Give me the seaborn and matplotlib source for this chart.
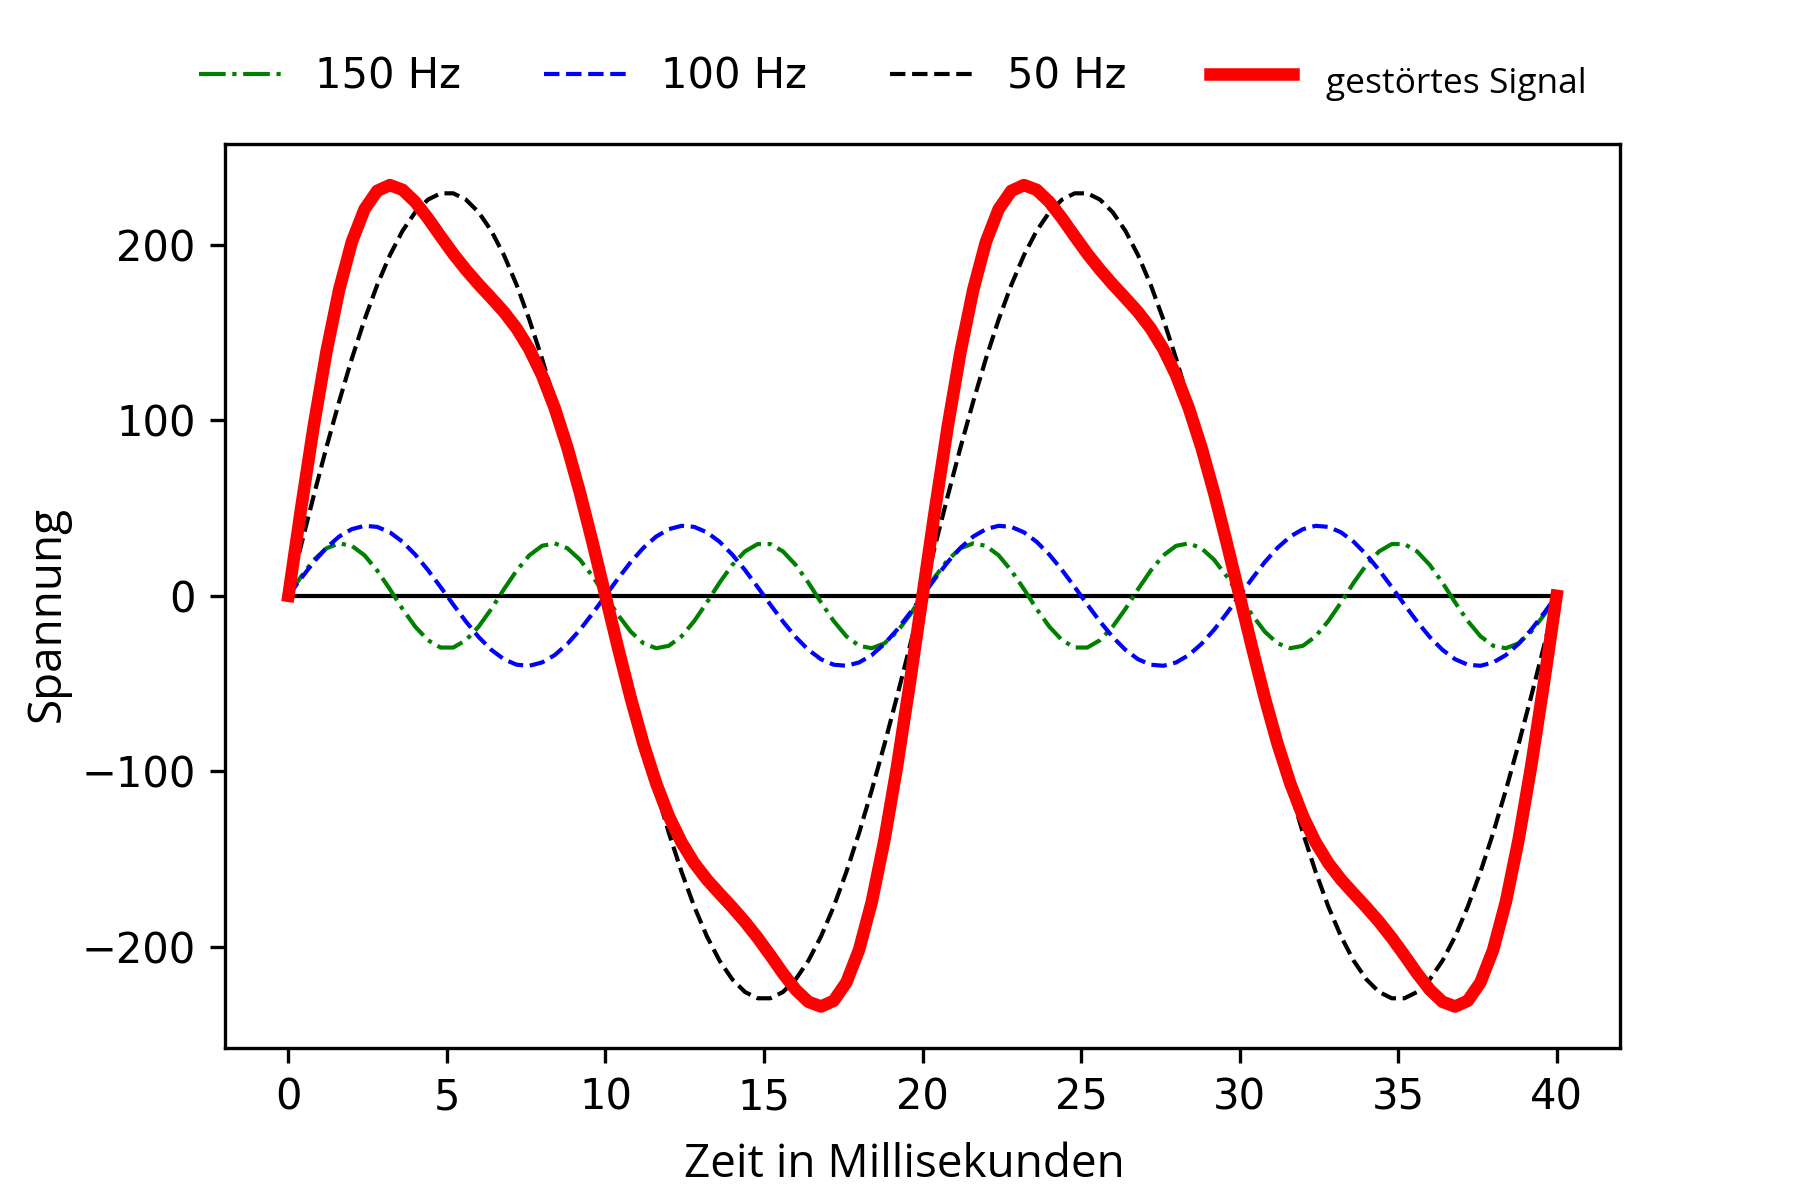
"""Gestörtes Signal: 50 Hz Grundschwingung mit 100 Hz und 150 Hz Oberschwingungen."""

import matplotlib

matplotlib.use("Agg")
import matplotlib.pyplot as plt
import seaborn as sns

# Abtastzeitpunkte in Millisekunden (Schrittweite 0.4 ms)
zeit_ms = [
    0.0, 0.4, 0.8, 1.2, 1.6, 2.0, 2.4, 2.8, 3.2, 3.6,
    4.0, 4.4, 4.8, 5.2, 5.6, 6.0, 6.4, 6.8, 7.2, 7.6,
    8.0, 8.4, 8.8, 9.2, 9.6, 10.0, 10.4, 10.8, 11.2, 11.6,
    12.0, 12.4, 12.8, 13.2, 13.6, 14.0, 14.4, 14.8, 15.2, 15.6,
    16.0, 16.4, 16.8, 17.2, 17.6, 18.0, 18.4, 18.8, 19.2, 19.6,
    20.0, 20.4, 20.8, 21.2, 21.6, 22.0, 22.4, 22.8, 23.2, 23.6,
    24.0, 24.4, 24.8, 25.2, 25.6, 26.0, 26.4, 26.8, 27.2, 27.6,
    28.0, 28.4, 28.8, 29.2, 29.6, 30.0, 30.4, 30.8, 31.2, 31.6,
    32.0, 32.4, 32.8, 33.2, 33.6, 34.0, 34.4, 34.8, 35.2, 35.6,
    36.0, 36.4, 36.8, 37.2, 37.6, 38.0, 38.4, 38.8, 39.2, 39.6,
    40.0,
]

# 150 Hz Oberschwingung
u_150hz = [
    0.0, 11.0, 20.5, 27.1, 29.9, 28.5, 23.1, 14.4, 3.8, -7.5,
    -17.6, -25.3, -29.5, -29.5, -25.3, -17.6, -7.5, 3.8, 14.4, 23.1,
    28.5, 29.9, 27.1, 20.5, 11.0, 0.0, -11.0, -20.5, -27.1, -29.9,
    -28.5, -23.1, -14.4, -3.8, 7.5, 17.6, 25.3, 29.5, 29.5, 25.3,
    17.6, 7.5, -3.8, -14.4, -23.1, -28.5, -29.9, -27.1, -20.5, -11.0,
    0.0, 11.0, 20.5, 27.1, 29.9, 28.5, 23.1, 14.4, 3.8, -7.5,
    -17.6, -25.3, -29.5, -29.5, -25.3, -17.6, -7.5, 3.8, 14.4, 23.1,
    28.5, 29.9, 27.1, 20.5, 11.0, 0.0, -11.0, -20.5, -27.1, -29.9,
    -28.5, -23.1, -14.4, -3.8, 7.5, 17.6, 25.3, 29.5, 29.5, 25.3,
    17.6, 7.5, -3.8, -14.4, -23.1, -28.5, -29.9, -27.1, -20.5, -11.0,
    0.0,
]

# 100 Hz Oberschwingung
u_100hz = [
    0.0, 9.9, 19.3, 27.4, 33.8, 38.0, 39.9, 39.3, 36.2, 30.8,
    23.5, 14.7, 5.0, -5.0, -14.7, -23.5, -30.8, -36.2, -39.3, -39.9,
    -38.0, -33.8, -27.4, -19.3, -9.9, 0.0, 9.9, 19.3, 27.4, 33.8,
    38.0, 39.9, 39.3, 36.2, 30.8, 23.5, 14.7, 5.0, -5.0, -14.7,
    -23.5, -30.8, -36.2, -39.3, -39.9, -38.0, -33.8, -27.4, -19.3, -9.9,
    0.0, 9.9, 19.3, 27.4, 33.8, 38.0, 39.9, 39.3, 36.2, 30.8,
    23.5, 14.7, 5.0, -5.0, -14.7, -23.5, -30.8, -36.2, -39.3, -39.9,
    -38.0, -33.8, -27.4, -19.3, -9.9, 0.0, 9.9, 19.3, 27.4, 33.8,
    38.0, 39.9, 39.3, 36.2, 30.8, 23.5, 14.7, 5.0, -5.0, -14.7,
    -23.5, -30.8, -36.2, -39.3, -39.9, -38.0, -33.8, -27.4, -19.3, -9.9,
    0.0,
]

# 50 Hz Grundschwingung
u_50hz = [
    0.0, 28.8, 57.2, 84.7, 110.8, 135.2, 157.4, 177.2, 194.2, 208.1,
    218.7, 225.9, 229.5, 229.5, 225.9, 218.7, 208.1, 194.2, 177.2, 157.4,
    135.2, 110.8, 84.7, 57.2, 28.8, 0.0, -28.8, -57.2, -84.7, -110.8,
    -135.2, -157.4, -177.2, -194.2, -208.1, -218.7, -225.9, -229.5, -229.5, -225.9,
    -218.7, -208.1, -194.2, -177.2, -157.4, -135.2, -110.8, -84.7, -57.2, -28.8,
    0.0, 28.8, 57.2, 84.7, 110.8, 135.2, 157.4, 177.2, 194.2, 208.1,
    218.7, 225.9, 229.5, 229.5, 225.9, 218.7, 208.1, 194.2, 177.2, 157.4,
    135.2, 110.8, 84.7, 57.2, 28.8, 0.0, -28.8, -57.2, -84.7, -110.8,
    -135.2, -157.4, -177.2, -194.2, -208.1, -218.7, -225.9, -229.5, -229.5, -225.9,
    -218.7, -208.1, -194.2, -177.2, -157.4, -135.2, -110.8, -84.7, -57.2, -28.8,
    0.0,
]

# Gestörtes Signal (Summe der drei Schwingungen)
u_gestoert = [
    0.0, 49.8, 97.0, 139.2, 174.5, 201.8, 220.4, 230.9, 234.2, 231.5,
    224.6, 215.3, 205.0, 195.0, 185.9, 177.6, 169.8, 161.8, 152.4, 140.6,
    125.7, 107.0, 84.5, 58.5, 29.9, 0.0, -29.9, -58.5, -84.5, -107.0,
    -125.7, -140.6, -152.4, -161.8, -169.8, -177.6, -185.9, -195.0, -205.0, -215.3,
    -224.6, -231.5, -234.2, -230.9, -220.4, -201.8, -174.5, -139.2, -97.0, -49.8,
    0.0, 49.8, 97.0, 139.2, 174.5, 201.8, 220.4, 230.9, 234.2, 231.5,
    224.6, 215.3, 205.0, 195.0, 185.9, 177.6, 169.8, 161.8, 152.4, 140.6,
    125.7, 107.0, 84.5, 58.5, 29.9, 0.0, -29.9, -58.5, -84.5, -107.0,
    -125.7, -140.6, -152.4, -161.8, -169.8, -177.6, -185.9, -195.0, -205.0, -215.3,
    -224.6, -231.5, -234.2, -230.9, -220.4, -201.8, -174.5, -139.2, -97.0, -49.8,
    0.0,
]

nulllinie = [0.0] * len(zeit_ms)

_LABEL_FONT = ["Open Sans", "DejaVu Sans"]

fig, ax = plt.subplots(figsize=(6, 4), dpi=300)
fig.subplots_adjust(left=0.125, right=0.9, top=0.88, bottom=0.127)

sns.lineplot(x=zeit_ms, y=nulllinie, ax=ax, color="black", linewidth=1)
sns.lineplot(x=zeit_ms, y=u_150hz, ax=ax, color="green", linestyle="-.",
             linewidth=1, label="150 Hz")
sns.lineplot(x=zeit_ms, y=u_100hz, ax=ax, color="blue", linestyle="--",
             linewidth=1, label="100 Hz")
sns.lineplot(x=zeit_ms, y=u_50hz, ax=ax, color="black", linestyle="--",
             linewidth=1, label="50 Hz")
sns.lineplot(x=zeit_ms, y=u_gestoert, ax=ax, color="red", linewidth=3,
             label="gestörtes Signal")

ax.set_xlabel("Zeit in Millisekunden", family=_LABEL_FONT, fontsize=11,
              labelpad=5.6)
ax.set_ylabel("Spannung", family=_LABEL_FONT, fontsize=11, labelpad=2.6)
ax.xaxis.label.set_x(0.487)
ax.yaxis.label.set_y(0.48)

handles, labels = ax.get_legend_handles_labels()
ax.get_legend().remove()
leg = fig.legend(handles, labels, loc="center", ncol=4, frameon=False,
                 fontsize=10, bbox_to_anchor=(0.496, 0.936))
leg.get_texts()[3].set_fontfamily(_LABEL_FONT)
leg.get_texts()[3].set_fontsize(8.5)
leg.get_texts()[3].set_y(-4)

fig.savefig("out.png", dpi=300)
plt.close(fig)
